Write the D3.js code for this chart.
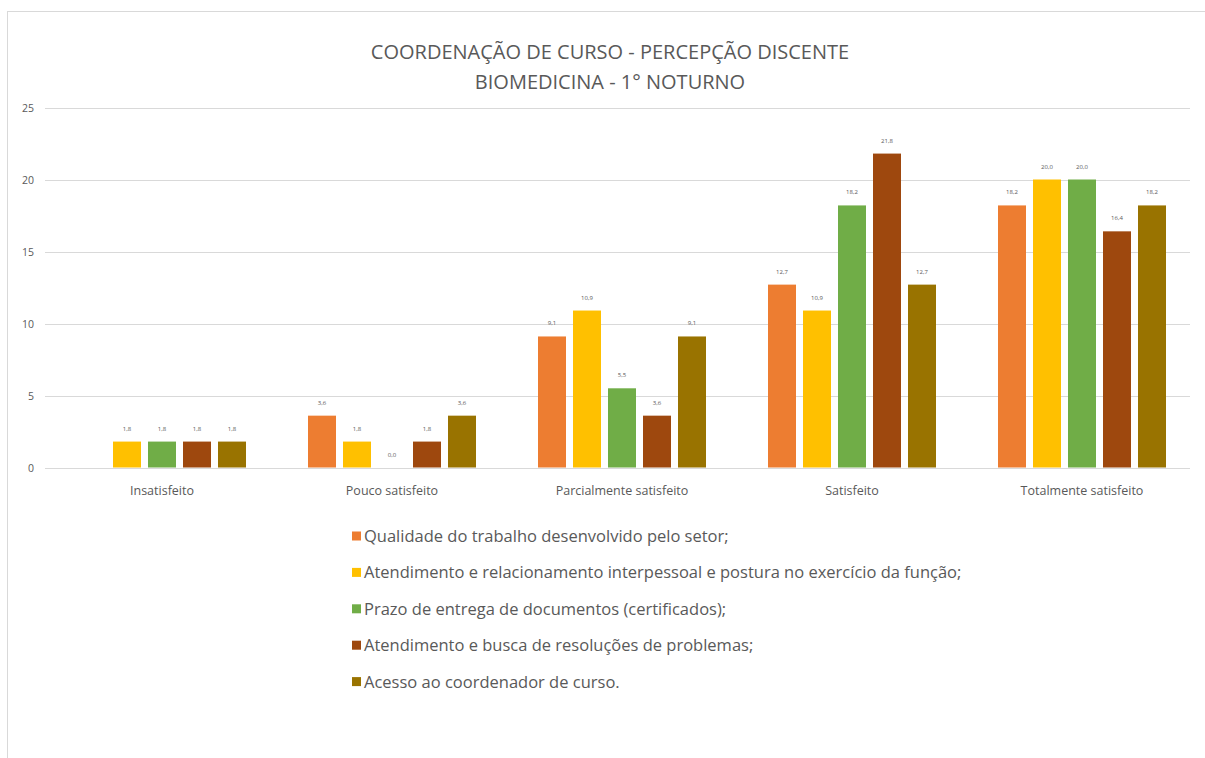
<!DOCTYPE html>
<html><head><meta charset="utf-8">
<script src="https://cdn.jsdelivr.net/npm/d3@7"></script>
<style>body{margin:0;background:#fff;} svg{display:block;}</style>
</head><body>
<script>
const categories = ["Insatisfeito","Pouco satisfeito","Parcialmente satisfeito","Satisfeito","Totalmente satisfeito"];
const seriesNames = [
  "Qualidade do trabalho desenvolvido pelo setor;",
  "Atendimento e relacionamento interpessoal e postura no exercício da função;",
  "Prazo de entrega de documentos (certificados);",
  "Atendimento e busca de resoluções de problemas;",
  "Acesso ao coordenador de curso."
];
const seriesColors = ["#ED7D31","#FFC000","#70AD47","#9E480E","#997300"];
const qualidade     = [null, 3.6, 9.1, 12.7, 18.2];
const atendimento   = [1.8, 1.8, 10.9, 10.9, 20.0];
const prazo         = [1.8, 0.0, 5.5, 18.2, 20.0];
const busca         = [1.8, 1.8, 3.6, 21.8, 16.4];
const acesso        = [1.8, 3.6, 9.1, 12.7, 18.2];
const seriesValues = [qualidade, atendimento, prazo, busca, acesso];
const yTicks = [0,5,10,15,20,25];
const titleLines = ["COORDENAÇÃO DE CURSO - PERCEPÇÃO DISCENTE","BIOMEDICINA - 1° NOTURNO"];

const W=1205,H=758;
const font="'Open Sans','Noto Sans',sans-serif";
const grey="#595959";
const svg=d3.select("body").append("svg").attr("width",W).attr("height",H);
svg.append("rect").attr("x",7.5).attr("y",11.5).attr("width",W).attr("height",H).attr("fill","#fff").attr("stroke","#d9d9d9");

const x=d3.scaleBand().domain(categories).range([47,1197]);
const xi=d3.scaleBand().domain(d3.range(seriesNames.length)).range([31,199]).paddingInner(0.2);
const y=d3.scaleLinear().domain([0,25]).range([467.5,107.5]);

// grid
svg.append("g").selectAll("line").data(yTicks).join("line")
  .attr("x1",45).attr("x2",1190).attr("y1",d=>Math.round(y(d))+0.5).attr("y2",d=>Math.round(y(d))+0.5)
  .attr("stroke","#d9d9d9").attr("stroke-width",1);
svg.append("g").selectAll("text").data(yTicks).join("text")
  .attr("x",34).attr("y",d=>y(d)+4).attr("text-anchor","end")
  .attr("font-family",font).attr("font-size",10.5).attr("fill",grey).text(d=>d);

// title
svg.append("g").selectAll("text").data(titleLines).join("text")
  .attr("x",610).attr("y",(d,i)=>59+i*30).attr("text-anchor","middle")
  .attr("font-family",font).attr("font-size",20).attr("fill",grey).text(d=>d);

// bars
const groups=svg.append("g").selectAll("g").data(categories).join("g")
  .attr("transform",d=>`translate(${x(d)},0)`);
groups.each(function(c,ci){
  const g=d3.select(this);
  const data=seriesValues.map((vals,si)=>({si,v:vals[ci]})).filter(d=>d.v!==null);
  g.selectAll("rect").data(data).join("rect")
    .attr("x",d=>xi(d.si)).attr("width",xi.bandwidth())
    .attr("y",d=>y(d.v)).attr("height",d=>y(0)-y(d.v))
    .attr("fill",d=>seriesColors[d.si]);
  g.selectAll("text").data(data).join("text")
    .attr("x",d=>xi(d.si)+xi.bandwidth()/2).attr("y",d=>y(d.v)-11)
    .attr("text-anchor","middle").attr("font-family",font).attr("font-size",6).attr("fill",grey)
    .text(d=>d3.format(".1f")(d.v).replace(".",","));
});

// category labels
svg.append("g").selectAll("text").data(categories).join("text")
  .attr("x",d=>x(d)+x.bandwidth()/2).attr("y",495).attr("text-anchor","middle")
  .attr("font-family",font).attr("font-size",12.5).attr("fill",grey).text(d=>d);

// legend
const leg=svg.append("g").selectAll("g").data(seriesNames).join("g")
  .attr("transform",(d,i)=>`translate(352,${536+i*36.4})`);
leg.append("rect").attr("x",0).attr("y",-4.5).attr("width",9).attr("height",9).attr("fill",(d,i)=>seriesColors[i]);
leg.append("text").attr("x",12).attr("y",6).attr("font-family",font).attr("font-size",16.5).attr("fill",grey).text(d=>d);
</script>
</body></html>
